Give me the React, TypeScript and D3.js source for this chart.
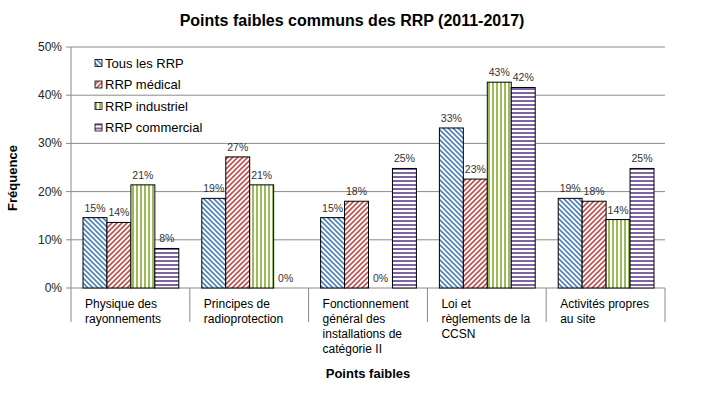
import React, { useEffect } from 'react'
import * as d3 from 'd3'

const categories = [
  ['Physique des', 'rayonnements'],
  ['Principes de', 'radioprotection'],
  ['Fonctionnement', 'général des', 'installations de', 'catégorie II'],
  ['Loi et', 'règlements de la', 'CCSN'],
  ['Activités propres', 'au site']
]
const series = ['Tous les RRP', 'RRP médical', 'RRP industriel', 'RRP commercial']
const tousLesRRP = [14.6, 18.6, 14.6, 33.2, 18.6]
const rrpMedical = [13.6, 27.2, 18.0, 22.6, 18.0]
const rrpIndustriel = [21.4, 21.4, 0, 42.7, 14.2]
const rrpCommercial = [8.2, 0, 24.8, 41.6, 24.8]
const yTicks = [0, 10, 20, 30, 40, 50]

const values = [tousLesRRP, rrpMedical, rrpIndustriel, rrpCommercial]
const colors = ['#4f81bd', '#c0504d', '#9bbb59', '#8064a2']
const font = '"Liberation Sans", Arial, sans-serif'

const W = 706
const H = 399
const left = 71
const right = 665
const top = 47
const bottom = 288

const Patterns = () => (
  <defs>
    {/* blue: downward diagonal */}
    <pattern id="p0" width="5" height="5" patternUnits="userSpaceOnUse">
      <rect width="5" height="5" fill="#fff" />
      <path d="M-1,-1 L6,6 M-1,4 L1,6 M4,-1 L6,1" stroke={colors[0]} strokeWidth="1.6" />
    </pattern>
    {/* red: upward diagonal */}
    <pattern id="p1" width="5" height="5" patternUnits="userSpaceOnUse">
      <rect width="5" height="5" fill="#fff" />
      <path d="M-1,6 L6,-1 M-1,1 L1,-1 M4,6 L6,4" stroke={colors[1]} strokeWidth="1.6" />
    </pattern>
    {/* green: vertical */}
    <pattern id="p2" width="4" height="4" patternUnits="userSpaceOnUse">
      <rect width="4" height="4" fill="#fff" />
      <rect x="0" width="2" height="4" fill={colors[2]} />
    </pattern>
    {/* purple: horizontal */}
    <pattern id="p3" width="4" height="4" patternUnits="userSpaceOnUse">
      <rect width="4" height="4" fill="#fff" />
      <rect y="0" width="4" height="2" fill={colors[3]} />
    </pattern>
  </defs>
)

export default function App () {
  useEffect(() => {
    document.body.style.margin = '0'
  }, [])

  const x0 = d3.scaleBand<number>()
    .domain(d3.range(categories.length))
    .range([left, right])
  const x1 = d3.scaleBand<number>()
    .domain(d3.range(series.length))
    .range([12, x0.bandwidth() - 11])
  const y = d3.scaleLinear().domain([0, 50]).range([bottom, top])

  const boundaries = d3.range(categories.length + 1).map(i =>
    i < categories.length ? x0(i)! : right)

  return (
    <svg width={W} height={H} style={{ display: 'block', background: '#fff' }} fontFamily={font}>
      <Patterns />

      {/* title */}
      <text x={352} y={26} textAnchor="middle" fontSize="16" fontWeight="bold" fill="#000">
        Points faibles communs des RRP (2011-2017)
      </text>

      {/* gridlines + y axis */}
      {yTicks.map(t => (
        <g key={t}>
          <line x1={left - 5} x2={right} y1={y(t)} y2={y(t)} stroke="#8a8a8a" strokeWidth="1" />
          <text x={62} y={y(t) + 4} textAnchor="end" fontSize="12" fill="#222">{t}%</text>
        </g>
      ))}

      {/* category separators */}
      {boundaries.map((b, i) => (
        <line key={i} x1={b} x2={b} y1={i === 0 ? top : bottom} y2={322} stroke="#8a8a8a" strokeWidth="1" />
      ))}

      {/* bars */}
      {values.map((vals, s) => (
        <g key={s}>
          {vals.map((v, c) => {
            const bx = x0(c)! + x1(s)!
            const bw = x1.bandwidth()
            return (
              <g key={c}>
                {v > 0 && (
                  <rect x={bx} y={y(v)} width={bw} height={y(0) - y(v)}
                    fill={`url(#p${s})`} stroke="#000" strokeWidth="1" />
                )}
                <text x={bx + bw / 2} y={y(v) - 6} textAnchor="middle" fontSize="10.5" fill="#333">
                  {Math.round(v)}%
                </text>
              </g>
            )
          })}
        </g>
      ))}

      {/* category labels */}
      {categories.map((lines, c) => (
        <text key={c} x={x0(c)! + 14} y={308} fontSize="12" fill="#000">
          {lines.map((l, i) => (
            <tspan key={i} x={x0(c)! + 14} dy={i === 0 ? 0 : 15}>{l}</tspan>
          ))}
        </text>
      ))}

      {/* legend */}
      {series.map((name, s) => (
        <g key={s} transform={`translate(95, ${63 + s * 21.5})`}>
          <rect x={0} y={-3.5} width={7} height={7} fill={`url(#p${s})`} stroke="#000" strokeWidth="0.8" />
          <text x={10} y={4.5} fontSize="13" fill="#000">{name}</text>
        </g>
      ))}

      {/* axis titles */}
      <text transform="translate(17, 178) rotate(-90)" textAnchor="middle" fontSize="13" fontWeight="bold" fill="#000">
        Fréquence
      </text>
      <text x={368} y={378} textAnchor="middle" fontSize="13" fontWeight="bold" fill="#000">
        Points faibles
      </text>
    </svg>
  )
}
